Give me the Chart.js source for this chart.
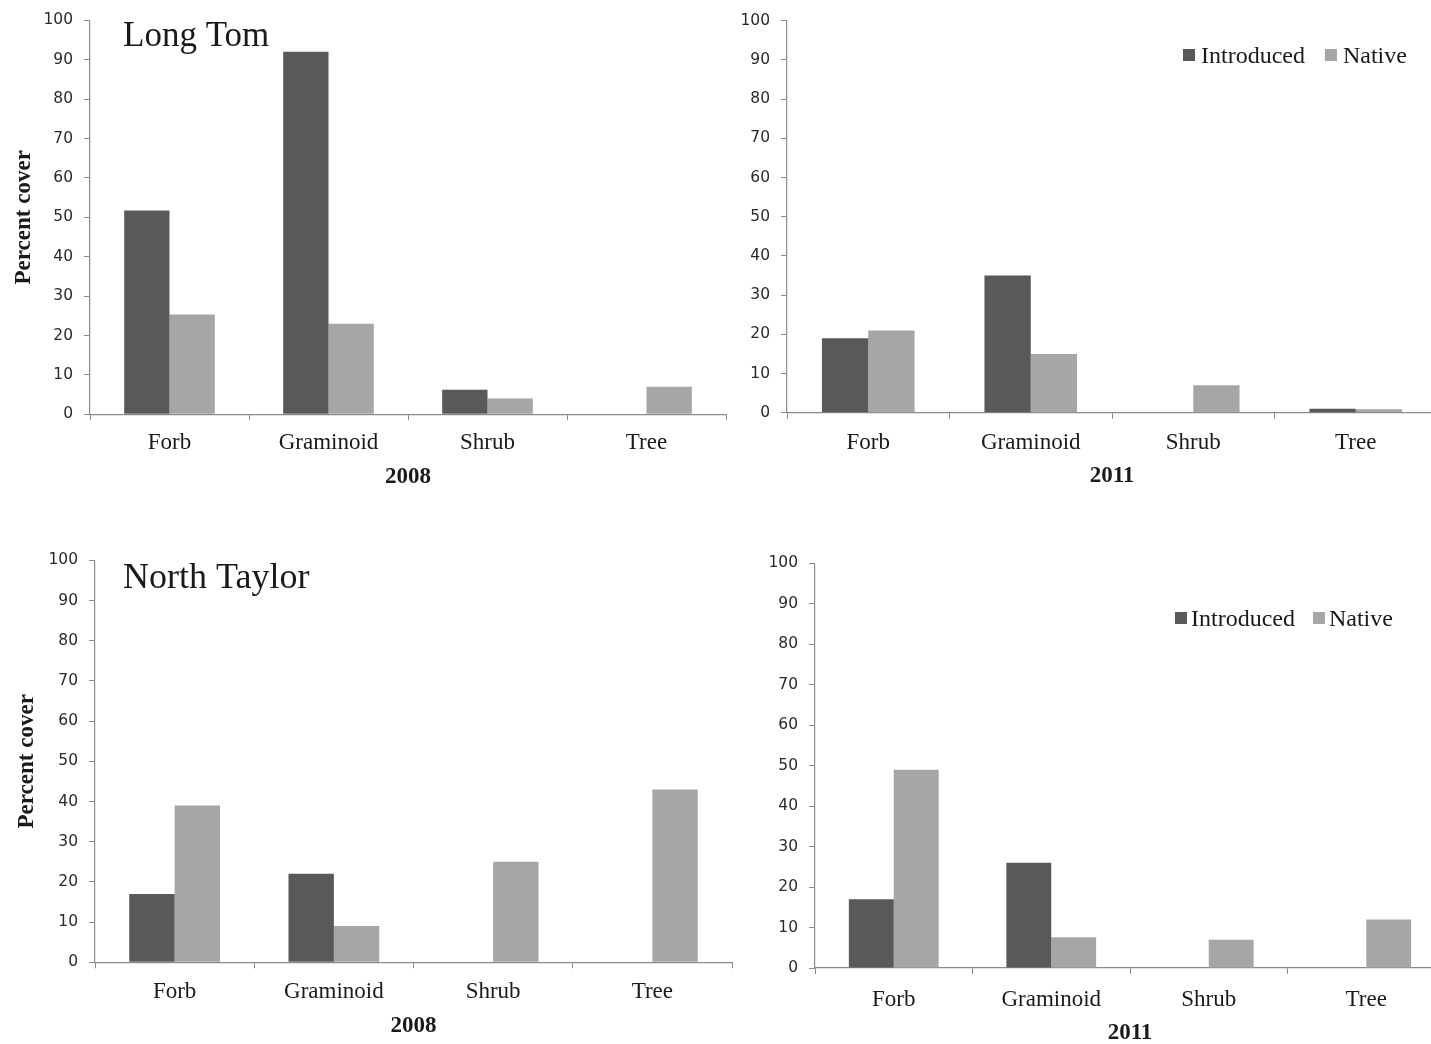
<!DOCTYPE html>
<html>
<head>
<meta charset="utf-8">
<title>Percent cover by growth form</title>
<script src="https://cdn.jsdelivr.net/npm/chart.js@4/dist/chart.umd.min.js"></script>
<style>
  html, body { margin: 0; padding: 0; background: #ffffff; overflow: hidden; width: 1431px; height: 1044px; }
  .panel { position: absolute; }
  canvas { display: block; }
</style>
</head>
<body>
<div class="panel" style="left:0px;top:0px;"><canvas id="lt2008" width="740" height="500"></canvas></div>
<div class="panel" style="left:700px;top:0px;"><canvas id="lt2011" width="760" height="500"></canvas></div>
<div class="panel" style="left:0px;top:540px;"><canvas id="nt2008" width="750" height="504"></canvas></div>
<div class="panel" style="left:760px;top:540px;"><canvas id="nt2011" width="700" height="510"></canvas></div>
<script>
// Growth-form categories and series
const categories = ['Forb', 'Graminoid', 'Shrub', 'Tree'];
const seriesNames = ['Introduced', 'Native'];

// Percent cover, Long Tom
const longTom2008Introduced = [51.7, 92, 6.2, 0];
const longTom2008Native     = [25.3, 23, 4, 7];
const longTom2011Introduced = [19, 35, 0, 1];
const longTom2011Native     = [21, 15, 7, 0.9];

// Percent cover, North Taylor
const northTaylor2008Introduced = [17, 22, 0, 0];
const northTaylor2008Native     = [39, 9, 25, 43];
const northTaylor2011Introduced = [17, 26, 0, 0];
const northTaylor2011Native     = [49, 7.6, 7, 12];

// Value axis
const yMin = 0;
const yMax = 100;
const yStep = 10;

const COLORS = { introduced: '#595959', native: '#a6a6a6', axis: '#8a8a8a', text: '#1a1a1a' };
const SERIF = "'Liberation Serif', 'Times New Roman', serif";
const SANS = "'DejaVu Sans', Verdana, sans-serif";

// Site name and legend drawn on top of the plot
const panelDecor = {
  id: 'panelDecor',
  afterDraw(chart, args, opts) {
    const ctx = chart.ctx;
    ctx.save();
    ctx.fillStyle = COLORS.text;
    if (opts.site) {
      ctx.font = opts.site.size + 'px ' + SERIF;
      ctx.textBaseline = 'alphabetic';
      ctx.textAlign = 'left';
      ctx.fillText(opts.site.text, opts.site.x, opts.site.y);
    }
    if (opts.legend) {
      const lg = opts.legend;
      let x = lg.x;
      ctx.font = lg.size + 'px ' + SERIF;
      ctx.textBaseline = 'alphabetic';
      ctx.textAlign = 'left';
      chart.data.datasets.forEach(ds => {
        ctx.fillStyle = ds.backgroundColor;
        ctx.fillRect(x, lg.boxTop, lg.box, lg.box);
        x += lg.box + lg.gap;
        ctx.fillStyle = COLORS.text;
        ctx.fillText(ds.label, x, lg.baseline);
        x += ctx.measureText(ds.label).width + lg.itemGap;
      });
    }
    ctx.restore();
  }
};

function makePanel(id, introduced, native, year, layout, decor) {
  return new Chart(document.getElementById(id), {
    type: 'bar',
    data: {
      labels: categories,
      datasets: [
        { label: seriesNames[0], data: introduced, backgroundColor: COLORS.introduced,
          borderWidth: 0, categoryPercentage: 0.57, barPercentage: 1.0 },
        { label: seriesNames[1], data: native, backgroundColor: COLORS.native,
          borderWidth: 0, categoryPercentage: 0.57, barPercentage: 1.0 }
      ]
    },
    options: {
      responsive: false,
      animation: false,
      events: [],
      layout: { padding: layout.padding },
      plugins: {
        legend: { display: false },
        tooltip: { enabled: false },
        panelDecor: decor
      },
      scales: {
        x: {
          type: 'category',
          offset: true,
          afterFit: s => { s.height = layout.xHeight; },
          grid: { offset: true, drawOnChartArea: false, drawTicks: true, tickLength: 6, color: COLORS.axis, lineWidth: 1 },
          border: { display: true, color: COLORS.axis, width: 1.2 },
          ticks: { padding: layout.xTickPad, color: COLORS.text, font: { family: SERIF, size: 23 }, maxRotation: 0 },
          title: { display: true, text: year, color: COLORS.text,
                   font: { family: SERIF, size: 23, weight: 'bold' }, padding: { top: 0, bottom: 2 } }
        },
        y: {
          min: yMin,
          max: yMax,
          afterFit: s => { s.width = layout.yWidth; },
          grid: { drawOnChartArea: false, drawTicks: true, tickLength: 6, color: COLORS.axis, lineWidth: 1 },
          border: { display: true, color: COLORS.axis, width: 1.2 },
          ticks: { stepSize: yStep, padding: 11, color: '#2a2a2a', font: { family: SANS, size: 15.5 } },
          title: layout.yTitle
            ? { display: true, text: 'Percent cover', color: COLORS.text,
                font: { family: SERIF, size: 23, weight: 'bold' }, padding: { top: layout.yTitlePad, bottom: 0 } }
            : { display: false }
        }
      }
    },
    plugins: [panelDecor]
  });
}

// Long Tom, 2008
makePanel('lt2008', longTom2008Introduced, longTom2008Native, '2008',
  { padding: { left: 0, top: 19, right: 14, bottom: 7.2 }, xHeight: 78.5, yWidth: 90, xTickPad: 9, yTitle: true, yTitlePad: 10.5 },
  { site: { text: 'Long Tom', x: 123, y: 46, size: 35 } });

// Long Tom, 2011
makePanel('lt2011', longTom2011Introduced, longTom2011Native, '2011',
  { padding: { left: 0, top: 20.7, right: 23, bottom: 8.2 }, xHeight: 79.1, yWidth: 87, xTickPad: 10, yTitle: false },
  { legend: { x: 483, boxTop: 49, box: 12, gap: 6, itemGap: 20, baseline: 63, size: 24 } });

// North Taylor, 2008
makePanel('nt2008', northTaylor2008Introduced, northTaylor2008Native, '2008',
  { padding: { left: 0, top: 13.3, right: 18, bottom: 2.2 }, xHeight: 79.5, yWidth: 95, xTickPad: 10, yTitle: true, yTitlePad: 13.5 },
  { site: { text: 'North Taylor', x: 123, y: 48, size: 36 } });

// North Taylor, 2011
makePanel('nt2011', northTaylor2011Introduced, northTaylor2011Native, '2011',
  { padding: { left: 0, top: 23.3, right: 15, bottom: 1.2 }, xHeight: 80.8, yWidth: 55, xTickPad: 12, yTitle: false },
  { legend: { x: 415, boxTop: 72, box: 12, gap: 4, itemGap: 18, baseline: 86, size: 24 } });
</script>
</body>
</html>
